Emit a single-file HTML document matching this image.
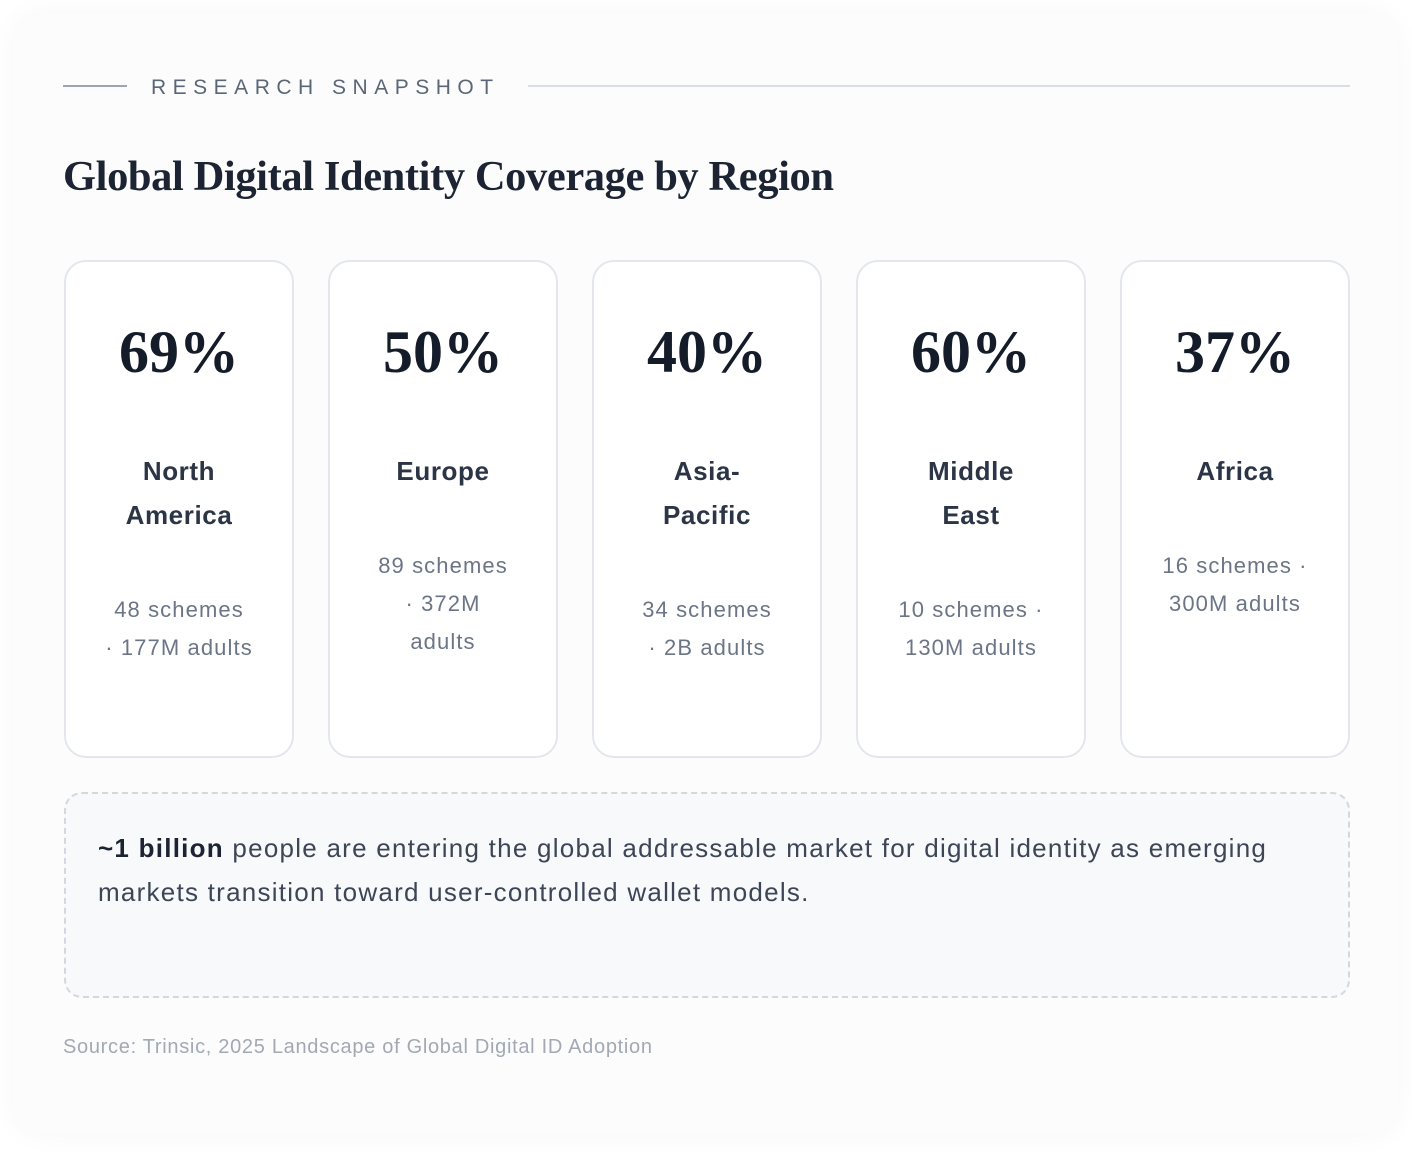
<!DOCTYPE html>
<html><head><meta charset="utf-8"><style>
*{margin:0;padding:0;box-sizing:border-box}
body{width:1412px;height:1168px;background:#fff;font-family:"Liberation Sans",sans-serif;position:relative;overflow:hidden}
.wrap{position:absolute;left:14px;top:14px;width:1384px;height:1120px;border-radius:30px;background:#fcfcfd;box-shadow:0 0 30px rgba(30,40,70,0.04)}
.hl{position:absolute;height:2px;background:#d9dde4}
.kicker{position:absolute;left:151px;top:76px;font-size:21px;letter-spacing:6.5px;color:#5b6677}
h1{position:absolute;left:63px;top:152px;font-family:"Liberation Serif",serif;font-size:42.5px;font-weight:bold;color:#1c2433;letter-spacing:-0.4px}
.card{position:absolute;top:260px;width:230px;height:498px;border:2px solid #e3e7ed;border-radius:22px;background:#fff;text-align:center}
.pct{position:absolute;top:50px;left:0;right:0;font-family:"Liberation Serif",serif;font-weight:bold;font-size:60px;color:#151c29;line-height:80px}
.name{position:absolute;top:187px;left:0;right:0;font-size:26px;font-weight:bold;color:#2b3545;line-height:44px;letter-spacing:0.6px}
.det{position:absolute;left:0;right:0;font-size:22px;color:#6b7585;line-height:38px;letter-spacing:1.1px}
.note{position:absolute;left:64px;top:792px;width:1286px;height:206px;border:2px dashed #d3d8e0;border-radius:18px;background:#f8f9fb;padding:32px 32px;font-size:26px;line-height:44px;color:#3c4656;letter-spacing:1.25px;white-space:nowrap}
.note b{color:#1c2433}
.src{position:absolute;left:63px;top:1036px;font-size:20px;color:#a2a9b5;letter-spacing:0.7px}
</style></head><body>
<div class="wrap"></div>
<div class="hl" style="left:63px;top:85px;width:64px;background:#9aa4b3"></div>
<div class="kicker">RESEARCH SNAPSHOT</div>
<div class="hl" style="left:528px;top:85px;width:822px"></div>
<h1>Global Digital Identity Coverage by Region</h1>

<div class="card" style="left:64px"><div class="pct">69%</div><div class="name">North<br>America</div><div class="det" style="top:329px">48 schemes<br>· 177M adults</div></div>
<div class="card" style="left:328px"><div class="pct">50%</div><div class="name">Europe</div><div class="det" style="top:285px">89 schemes<br>· 372M<br>adults</div></div>
<div class="card" style="left:592px"><div class="pct">40%</div><div class="name">Asia-<br>Pacific</div><div class="det" style="top:329px">34 schemes<br>· 2B adults</div></div>
<div class="card" style="left:856px"><div class="pct">60%</div><div class="name">Middle<br>East</div><div class="det" style="top:329px">10 schemes ·<br>130M adults</div></div>
<div class="card" style="left:1120px"><div class="pct">37%</div><div class="name">Africa</div><div class="det" style="top:285px">16 schemes ·<br>300M adults</div></div>

<div class="note"><b>~1 billion</b> people are entering the global addressable market for digital identity as emerging<br>markets transition toward user-controlled wallet models.</div>
<div class="src">Source: Trinsic, 2025 Landscape of Global Digital ID Adoption</div>
</body></html>
